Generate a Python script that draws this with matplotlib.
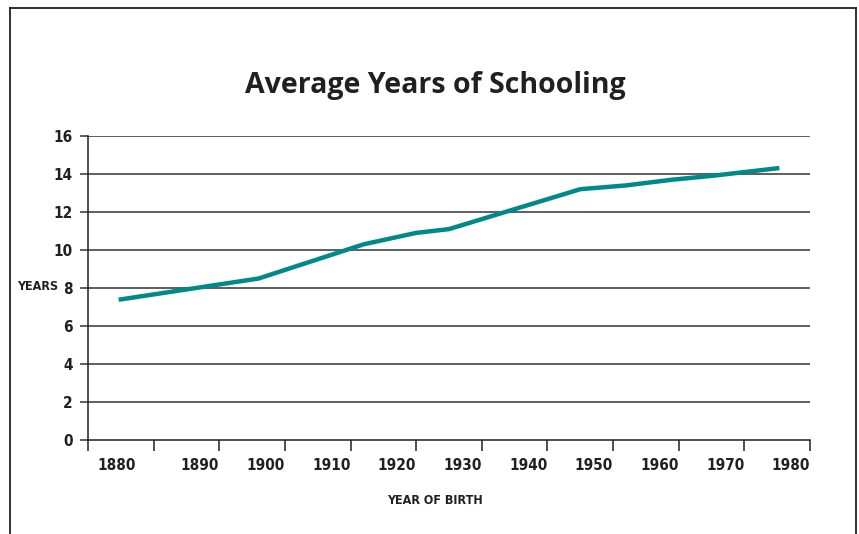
import matplotlib.pyplot as plt
import matplotlib.transforms as mtransforms
from matplotlib.lines import Line2D

# ---------------- DATA ----------------
birth_year = [1875, 1896, 1912, 1920, 1925, 1945, 1952, 1959, 1965, 1975]
years_school = [7.4, 8.5, 10.3, 10.9, 11.1, 13.2, 13.4, 13.7, 13.9, 14.3]

tick_years = list(range(1870, 1990, 10))
label_years = [1880, 1890, 1900, 1910, 1920, 1930, 1940, 1950, 1960, 1970, 1980]
y_ticks = [0, 2, 4, 6, 8, 10, 12, 14, 16]

title = "Average Years of Schooling"
cond = dict(fontfamily="DejaVu Sans", fontstretch="condensed", fontweight="bold",
            color="#231f20")

# ---------------- FIGURE ----------------
W, H = 859, 534
fig = plt.figure(figsize=(W / 100, H / 100), dpi=100)
ax = fig.add_axes([88 / W, (H - 440) / H, (810 - 88) / W, (440 - 136) / H])

ax.set_xlim(1870, 1980)
ax.set_ylim(0, 16)

# gridlines with short outside stubs
for v in y_ticks[1:]:
    ax.axhline(v, color="#333333", lw=1.1, zorder=1)
ax.set_yticks(y_ticks)
ax.set_yticklabels([str(v) for v in y_ticks], fontsize=11, **cond)
ax.tick_params(axis="y", length=6, width=1.1, color="#333333", pad=5)

ax.set_xticks(tick_years)
ax.set_xticklabels([])
ax.tick_params(axis="x", direction="out", length=8, width=1.1, color="#231f20")

for s in ["top", "right"]:
    ax.spines[s].set_visible(False)
for s in ["left", "bottom"]:
    ax.spines[s].set_linewidth(1.1)
    ax.spines[s].set_color("#231f20")

# x labels sit right-aligned on ticks (1880 set off to the left, as in the original)
trans = mtransforms.blended_transform_factory(ax.transData, ax.transAxes)
for yr in label_years:
    xpos = yr if yr != 1880 else 1877.3
    ax.text(xpos, -0.06, str(yr), transform=trans, ha="right", va="top",
            fontsize=11, **cond)

ax.plot(birth_year, years_school, color="#00898a", lw=3.2,
        solid_joinstyle="round", zorder=3, clip_on=False)

# axis labels
fig.text(58 / W, 1 - 286 / H, "YEARS", ha="right", va="center", fontsize=9, **cond)
fig.text(435 / W, 1 - 500 / H, "YEAR OF BIRTH", ha="center", va="center",
         fontsize=9, **cond)

fig.text(435 / W, 1 - 85 / H, title, ha="center", va="center",
         fontfamily=["Open Sans", "DejaVu Sans"], fontweight="bold",
         fontsize=20.5, color="#231f20")

# outer frame (bottom edge runs off the image)
frame_kw = dict(color="#231f20", lw=1.3, transform=fig.transFigure)
fig.add_artist(Line2D([10 / W, 10 / W], [0, 1 - 8 / H], **frame_kw))
fig.add_artist(Line2D([10 / W, 856 / W], [1 - 8 / H, 1 - 8 / H], **frame_kw))
fig.add_artist(Line2D([856 / W, 856 / W], [0, 1 - 8 / H], **frame_kw))

fig.savefig("out.png", dpi=100, facecolor="white")
